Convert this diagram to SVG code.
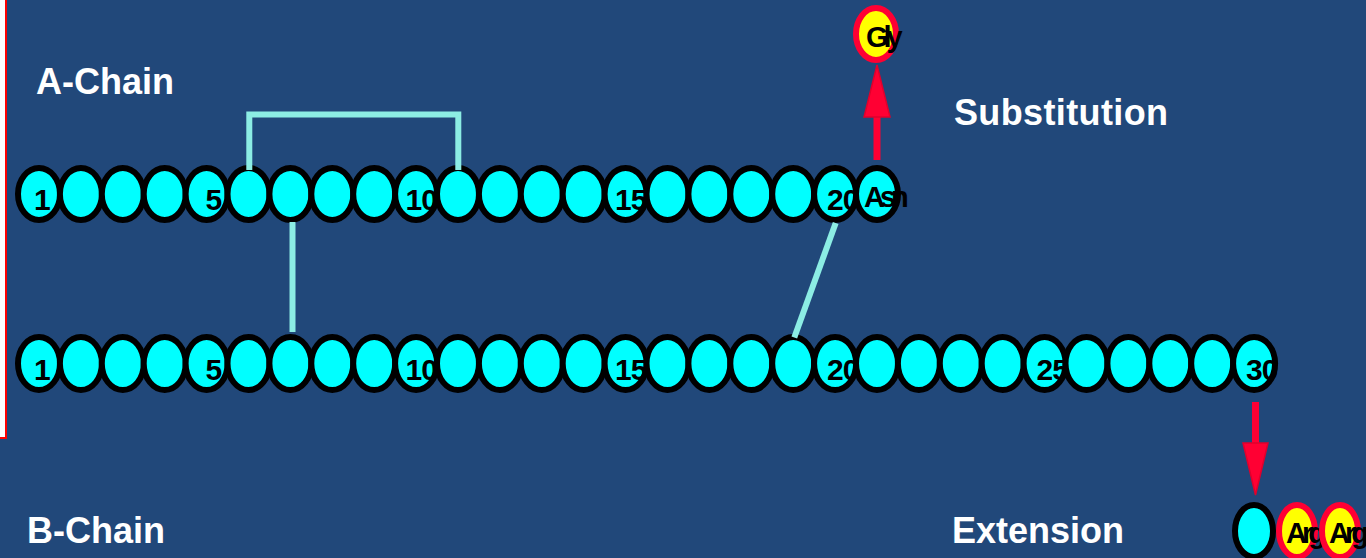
<svg xmlns="http://www.w3.org/2000/svg" xmlns:xlink="http://www.w3.org/1999/xlink" width="1366" height="558" viewBox="0 0 1366 558">
<style>
.res{fill:#00FFFF;stroke:#000;stroke-width:6}
.sub{fill:#FFFF00;stroke:#FF0033;stroke-width:6}
.num{font-family:"Liberation Sans",Arial,sans-serif;font-weight:bold;font-size:30px;fill:#000;letter-spacing:-1px}
.aa{font-family:"Liberation Sans",Arial,sans-serif;font-weight:bold;font-size:29px;fill:#000;letter-spacing:-5px}
.title{font-family:"Liberation Sans",Arial,sans-serif;font-weight:bold;font-size:36px;fill:#FFFFFF}
.link{fill:none;stroke:#8CEDE4;stroke-width:6}
.arrow{stroke:#FF0033;stroke-width:7;fill:none}
.head{fill:#FF0033;stroke:#E0002C;stroke-width:1.5}
</style>
<rect x="0" y="0" width="1366" height="558" fill="#21487A"/>
<rect x="-10" y="-10" width="16" height="448" fill="#FFFFFF" stroke="#FF0000" stroke-width="2"/>
<g id="labels">
<text class="title" x="36" y="94">A-Chain</text>
<text class="title" x="954" y="125" textLength="214">Substitution</text>
<text class="title" x="27" y="543">B-Chain</text>
<text class="title" x="952" y="543">Extension</text>
</g>
<g id="chainA">
<g id="A1"><ellipse class="res" cx="39" cy="194" rx="21" ry="26"/><text class="num" x="34" y="210">1</text></g>
<g id="A2"><ellipse class="res" cx="80.9" cy="194" rx="21" ry="26"/></g>
<g id="A3"><ellipse class="res" cx="122.8" cy="194" rx="21" ry="26"/></g>
<g id="A4"><ellipse class="res" cx="164.7" cy="194" rx="21" ry="26"/></g>
<g id="A5"><ellipse class="res" cx="206.6" cy="194" rx="21" ry="26"/><text class="num" x="205.6" y="210">5</text></g>
<g id="A6"><ellipse class="res" cx="248.5" cy="194" rx="21" ry="26"/></g>
<g id="A7"><ellipse class="res" cx="290.4" cy="194" rx="21" ry="26"/></g>
<g id="A8"><ellipse class="res" cx="332.3" cy="194" rx="21" ry="26"/></g>
<g id="A9"><ellipse class="res" cx="374.2" cy="194" rx="21" ry="26"/></g>
<g id="A10"><ellipse class="res" cx="416.1" cy="194" rx="21" ry="26"/><text class="num" x="405.6" y="210">10</text></g>
<g id="A11"><ellipse class="res" cx="458" cy="194" rx="21" ry="26"/></g>
<g id="A12"><ellipse class="res" cx="499.9" cy="194" rx="21" ry="26"/></g>
<g id="A13"><ellipse class="res" cx="541.8" cy="194" rx="21" ry="26"/></g>
<g id="A14"><ellipse class="res" cx="583.7" cy="194" rx="21" ry="26"/></g>
<g id="A15"><ellipse class="res" cx="625.6" cy="194" rx="21" ry="26"/><text class="num" x="615.1" y="210">15</text></g>
<g id="A16"><ellipse class="res" cx="667.5" cy="194" rx="21" ry="26"/></g>
<g id="A17"><ellipse class="res" cx="709.4" cy="194" rx="21" ry="26"/></g>
<g id="A18"><ellipse class="res" cx="751.3" cy="194" rx="21" ry="26"/></g>
<g id="A19"><ellipse class="res" cx="793.2" cy="194" rx="21" ry="26"/></g>
<g id="A20"><ellipse class="res" cx="835.1" cy="194" rx="21" ry="26"/><text class="num" x="827" y="210">20</text></g>
<g id="A21"><ellipse class="res" cx="877" cy="194" rx="21" ry="26"/><text class="aa" x="864" y="207">Asn</text></g>
</g>
<g id="chainB">
<g id="B1"><ellipse class="res" cx="39" cy="363.5" rx="21" ry="26.5"/><text class="num" x="34" y="380">1</text></g>
<g id="B2"><ellipse class="res" cx="80.9" cy="363.5" rx="21" ry="26.5"/></g>
<g id="B3"><ellipse class="res" cx="122.8" cy="363.5" rx="21" ry="26.5"/></g>
<g id="B4"><ellipse class="res" cx="164.7" cy="363.5" rx="21" ry="26.5"/></g>
<g id="B5"><ellipse class="res" cx="206.6" cy="363.5" rx="21" ry="26.5"/><text class="num" x="205.6" y="380">5</text></g>
<g id="B6"><ellipse class="res" cx="248.5" cy="363.5" rx="21" ry="26.5"/></g>
<g id="B7"><ellipse class="res" cx="290.4" cy="363.5" rx="21" ry="26.5"/></g>
<g id="B8"><ellipse class="res" cx="332.3" cy="363.5" rx="21" ry="26.5"/></g>
<g id="B9"><ellipse class="res" cx="374.2" cy="363.5" rx="21" ry="26.5"/></g>
<g id="B10"><ellipse class="res" cx="416.1" cy="363.5" rx="21" ry="26.5"/><text class="num" x="405.6" y="380">10</text></g>
<g id="B11"><ellipse class="res" cx="458" cy="363.5" rx="21" ry="26.5"/></g>
<g id="B12"><ellipse class="res" cx="499.9" cy="363.5" rx="21" ry="26.5"/></g>
<g id="B13"><ellipse class="res" cx="541.8" cy="363.5" rx="21" ry="26.5"/></g>
<g id="B14"><ellipse class="res" cx="583.7" cy="363.5" rx="21" ry="26.5"/></g>
<g id="B15"><ellipse class="res" cx="625.6" cy="363.5" rx="21" ry="26.5"/><text class="num" x="615.1" y="380">15</text></g>
<g id="B16"><ellipse class="res" cx="667.5" cy="363.5" rx="21" ry="26.5"/></g>
<g id="B17"><ellipse class="res" cx="709.4" cy="363.5" rx="21" ry="26.5"/></g>
<g id="B18"><ellipse class="res" cx="751.3" cy="363.5" rx="21" ry="26.5"/></g>
<g id="B19"><ellipse class="res" cx="793.2" cy="363.5" rx="21" ry="26.5"/></g>
<g id="B20"><ellipse class="res" cx="835.1" cy="363.5" rx="21" ry="26.5"/><text class="num" x="827" y="380">20</text></g>
<g id="B21"><ellipse class="res" cx="877" cy="363.5" rx="21" ry="26.5"/></g>
<g id="B22"><ellipse class="res" cx="918.9" cy="363.5" rx="21" ry="26.5"/></g>
<g id="B23"><ellipse class="res" cx="960.8" cy="363.5" rx="21" ry="26.5"/></g>
<g id="B24"><ellipse class="res" cx="1002.7" cy="363.5" rx="21" ry="26.5"/></g>
<g id="B25"><ellipse class="res" cx="1044.6" cy="363.5" rx="21" ry="26.5"/><text class="num" x="1036.5" y="380">25</text></g>
<g id="B26"><ellipse class="res" cx="1086.5" cy="363.5" rx="21" ry="26.5"/></g>
<g id="B27"><ellipse class="res" cx="1128.4" cy="363.5" rx="21" ry="26.5"/></g>
<g id="B28"><ellipse class="res" cx="1170.3" cy="363.5" rx="21" ry="26.5"/></g>
<g id="B29"><ellipse class="res" cx="1212.2" cy="363.5" rx="21" ry="26.5"/></g>
<g id="B30"><ellipse class="res" cx="1254.1" cy="363.5" rx="21" ry="26.5"/><text class="num" x="1246" y="380">30</text></g>
</g>
<g id="Gly"><ellipse class="sub" cx="876" cy="34" rx="20" ry="26"/><text class="aa" x="866" y="47">Gly</text></g>
<g id="ext0"><ellipse class="res" cx="1254" cy="531" rx="19" ry="26"/></g>
<g id="Arg1"><ellipse class="sub" cx="1297" cy="531" rx="18" ry="26"/><text class="aa" x="1286" y="543">Arg</text></g>
<g id="Arg2"><ellipse class="sub" cx="1340" cy="531" rx="18" ry="26"/><text class="aa" x="1329" y="543">Arg</text></g>
<g id="connectors">
<polyline class="link" points="249.3,170 249.3,114.5 458.3,114.5 458.3,170"/>
<line class="link" x1="292.5" y1="222" x2="292.5" y2="332"/>
<line class="link" x1="835.7" y1="223" x2="794.3" y2="337.5"/>
<line class="arrow" x1="877" y1="160" x2="877" y2="116"/>
<polygon class="head" points="864,117 890,117 877,65"/>
<line class="arrow" x1="1255.5" y1="402" x2="1255.5" y2="444"/>
<polygon class="head" points="1243,443 1268,443 1255.5,495"/>
</g>
</svg>
